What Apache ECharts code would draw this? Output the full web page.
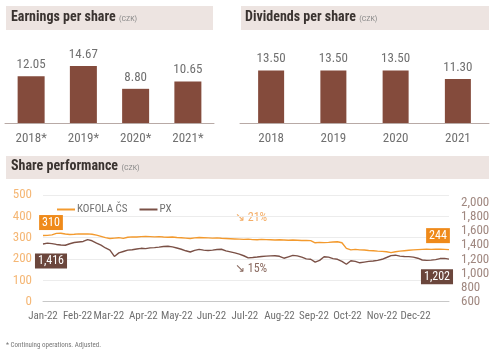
<!DOCTYPE html>
<html>
<head>
<meta charset="utf-8">
<script src="https://cdn.jsdelivr.net/npm/echarts@6/dist/echarts.min.js"></script>
<style>html,body{margin:0;padding:0;background:#fff}#c{width:500px;height:356px}</style>
</head>
<body>
<div id="c"></div>
<script>
// ---- data ----
const epsYears = ['2018*', '2019*', '2020*', '2021*'];
const epsValues = [12.05, 14.67, 8.80, 10.65];
const dpsYears = ['2018', '2019', '2020', '2021'];
const dpsValues = [13.50, 13.50, 13.50, 11.30];

// day-of-year (2022) of each sampled price
const priceDays = [0,4,8,12,16,20,24,28,32,36,40,44,48,52,56,60,64,68,72,76,80,84,88,92,96,100,
  104,108,112,116,120,124,128,132,136,140,144,148,152,156,160,164,168,172,176,180,184,188,192,196,200,
  204,208,212,216,220,224,228,232,236,240,244,248,252,256,260,264,268,272,276,280,284,288,292,296,300,
  304,308,312,316,320,324,328,332,336,340,344,348,352,356,360,364];
const kofola = [310,311,313,320,321,317,315,316,318,317,318,316,312,306,300,296,298,300,297,302,304,303,305,306,305,304,
  305,303,302,303,301,300,298,296,299,301,300,299,298,299,297,296,295,294,293,292,293,291,290,292,291,
  290,289,290,289,288,289,288,287,287,286,276,278,277,278,280,281,276,250,243,245,243,242,240,239,237,
  236,234,230,234,237,239,241,243,244,245,246,245,246,246,245,244];
const px = [1416,1428,1422,1410,1402,1398,1420,1438,1445,1452,1478,1462,1430,1400,1360,1330,1240,1290,1310,1330,1335,1345,1355,1350,1362,1365,
  1372,1380,1385,1375,1360,1342,1320,1303,1325,1340,1330,1325,1330,1338,1342,1318,1305,1290,1272,1250,1220,1225,1232,1240,1245,
  1248,1250,1242,1215,1235,1255,1248,1230,1205,1200,1160,1185,1235,1230,1210,1200,1170,1130,1180,1170,1150,1160,1170,1175,1185,
  1200,1225,1252,1258,1245,1240,1238,1230,1215,1190,1185,1188,1195,1210,1212,1202];
const leftTicks = {min: 0, max: 500, interval: 100};
const rightTicks = {min: 600, maxLabel: 2000, interval: 200};
const seriesNames = ['KOFOLA ČS', 'PX'];

// ---- styles ----
const FONT = "'Roboto Condensed', sans-serif";
const BAR = '#844b3c';
const ORANGE = '#f39a2e';
const ORANGE_BOX = '#ef8a1a';
const BROWN = '#7a5046';
const BROWN_BOX = '#6b463c';
const GRAY = '#707070';
const HEAD = '#ede4e1';

// daily categories for 2022
const months = ['Jan','Feb','Mar','Apr','May','Jun','Jul','Aug','Sep','Oct','Nov','Dec'];
const days = [];
for (let d = new Date(Date.UTC(2022,0,1)); d.getUTCFullYear() === 2022; d.setUTCDate(d.getUTCDate()+1)) {
  days.push(d.toISOString().slice(0,10));
}
const fmt = v => v.toLocaleString('en-US');
const pct = (a) => Math.round(Math.abs(a[a.length-1]/a[0]-1)*100) + '%';

const chart = echarts.init(document.getElementById('c'), null, {renderer: 'canvas'});

function headerText(x, y, main) {
  return {type: 'text', left: x, top: y, style: {
    text: '{b|' + main + '} {s|(CZK)}',
    rich: {
      b: {fontFamily: FONT, fontWeight: 'bold', fontSize: 14, fill: '#3a3330'},
      s: {fontFamily: FONT, fontSize: 8, fill: '#888', padding: [3, 0, 0, 0]}
    }
  }};
}
function markLabel(day, val, bg, off) {
  return {coord: [day, val], value: val,
    label: {show: true, position: 'inside', offset: off, formatter: fmt(val),
      backgroundColor: bg, color: '#fff', padding: [2, 3, 1, 3],
      fontFamily: FONT, fontSize: 12}};
}
const last = priceDays.length - 1;

const option = {
  animation: false,
  textStyle: {fontFamily: FONT},
  graphic: [
    {type: 'rect', shape: {x: 6, y: 6, width: 207, height: 24}, style: {fill: HEAD}, silent: true},
    {type: 'rect', shape: {x: 241, y: 6, width: 248, height: 24}, style: {fill: HEAD}, silent: true},
    {type: 'rect', shape: {x: 6, y: 156, width: 483, height: 23}, style: {fill: HEAD}, silent: true},
    headerText(11, 10, 'Earnings per share'),
    headerText(245, 10, 'Dividends per share'),
    headerText(11, 159, 'Share performance'),
    {type: 'text', left: 235, top: 212, style: {text: '↘ ' + pct(kofola), fontFamily: FONT, fontSize: 12, fill: '#f4ad66'}},
    {type: 'text', left: 235, top: 263, style: {text: '↘ ' + pct(px), fontFamily: FONT, fontSize: 12, fill: '#8a6a60'}},
    {type: 'text', left: 6, top: 342, style: {text: '* Continuing operations. Adjusted.', fontFamily: FONT, fontSize: 7, fill: '#777'}}
  ],
  legend: {
    left: 52, top: 199, itemWidth: 18, itemHeight: 2, itemGap: 12,
    icon: 'rect',
    textStyle: {color: GRAY, fontSize: 11, fontFamily: FONT, padding: [0, 0, 0, -3]},
    data: seriesNames
  },
  grid: [
    {left: 5, top: 45.3, width: 209, height: 77.7},
    {left: 240, top: 45.3, width: 249, height: 77.7},
    {left: 43, top: 195, right: 51, height: 106.7}
  ],
  xAxis: [
    {type: 'category', gridIndex: 0, data: epsYears, axisTick: {show: false},
      axisLine: {lineStyle: {color: '#b8aaa6'}},
      axisLabel: {color: GRAY, fontSize: 13, margin: 9, fontFamily: FONT}},
    {type: 'category', gridIndex: 1, data: dpsYears, axisTick: {show: false},
      axisLine: {lineStyle: {color: '#b8aaa6'}},
      axisLabel: {color: GRAY, fontSize: 13, margin: 9, fontFamily: FONT}},
    {type: 'category', gridIndex: 2, data: days, boundaryGap: false, axisTick: {show: false},
      axisLine: {lineStyle: {color: '#c8c8c8'}},
      axisLabel: {color: GRAY, fontSize: 11, margin: 9, fontFamily: FONT, hideOverlap: false,
        showMinLabel: true,
        interval: (i, v) => v.slice(8) === '01',
        formatter: v => months[+v.slice(5,7)-1] + '-22'}}
  ],
  yAxis: [
    {type: 'value', gridIndex: 0, min: 0, max: 20, show: false, splitLine: {show: false}},
    {type: 'value', gridIndex: 1, min: 0, max: 20, show: false, splitLine: {show: false}},
    {type: 'value', gridIndex: 2, min: leftTicks.min, max: leftTicks.max, interval: leftTicks.interval,
      axisLine: {show: false}, axisTick: {show: false},
      splitLine: {lineStyle: {color: '#ececec'}},
      axisLabel: {color: '#f5b775', fontSize: 13, margin: 11, fontFamily: FONT}},
    {type: 'value', gridIndex: 2, position: 'right', min: rightTicks.min,
      max: rightTicks.min + (rightTicks.maxLabel - rightTicks.min) * 1.078, interval: rightTicks.interval,
      axisLine: {show: false}, axisTick: {show: false}, splitLine: {show: false},
      axisLabel: {color: '#a08880', fontSize: 13, margin: 12, fontFamily: FONT, align: 'left',
        formatter: v => v > rightTicks.maxLabel ? '' : fmt(v)}}
  ],
  series: [
    {type: 'bar', xAxisIndex: 0, yAxisIndex: 0, data: epsValues, barWidth: 27,
      itemStyle: {color: BAR},
      label: {show: true, position: 'top', distance: 5, color: GRAY, fontSize: 13, fontFamily: FONT,
        formatter: p => p.value.toFixed(2)}},
    {type: 'bar', xAxisIndex: 1, yAxisIndex: 1, data: dpsValues, barWidth: 26,
      itemStyle: {color: BAR},
      label: {show: true, position: 'top', distance: 5, color: GRAY, fontSize: 13, fontFamily: FONT,
        formatter: p => p.value.toFixed(2)}},
    {name: seriesNames[0], type: 'line', xAxisIndex: 2, yAxisIndex: 2, symbol: 'none',
      data: priceDays.map((d, i) => [d, kofola[i]]),
      lineStyle: {color: ORANGE, width: 1.4}, itemStyle: {color: ORANGE},
      markPoint: {symbol: 'circle', symbolSize: 1, itemStyle: {color: 'rgba(0,0,0,0)'},
        data: [markLabel(priceDays[0], kofola[0], ORANGE_BOX, [8, -13]),
               markLabel(priceDays[last], kofola[last], ORANGE_BOX, [-11, -14])]}},
    {name: seriesNames[1], type: 'line', xAxisIndex: 2, yAxisIndex: 3, symbol: 'none',
      data: priceDays.map((d, i) => [d, px[i]]),
      lineStyle: {color: BROWN, width: 1.4}, itemStyle: {color: BROWN},
      markPoint: {symbol: 'circle', symbolSize: 1, itemStyle: {color: 'rgba(0,0,0,0)'},
        data: [markLabel(priceDays[0], px[0], BROWN_BOX, [8, 17]),
               markLabel(priceDays[last], px[last], BROWN_BOX, [-12, 17.5])]}}
  ]
};
chart.setOption(option);
</script>
</body>
</html>
